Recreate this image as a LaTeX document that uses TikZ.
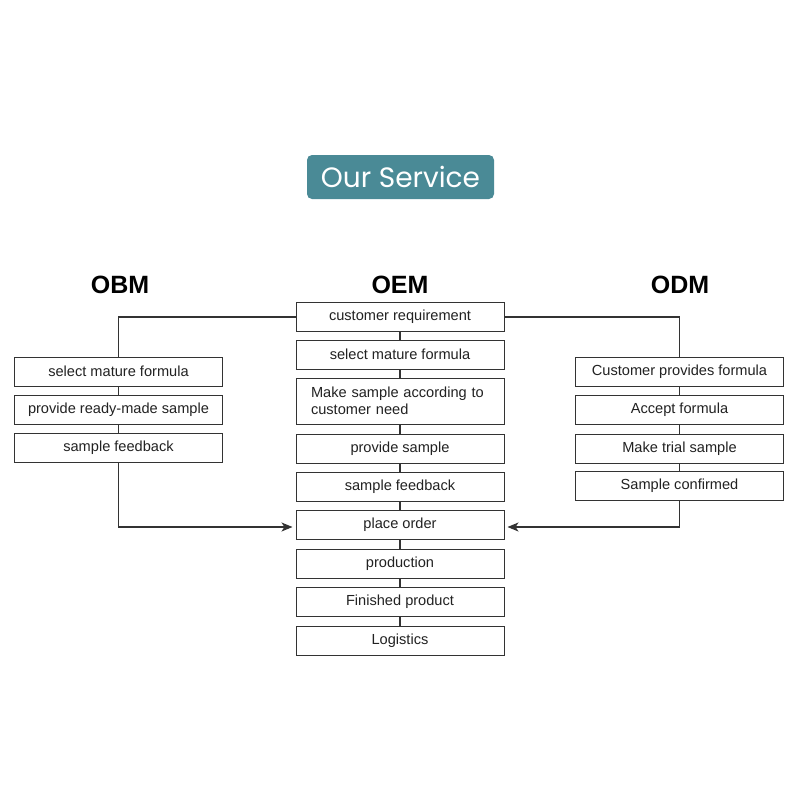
\documentclass[tikz,border=0pt]{standalone}
\usepackage{fontspec}
\setmainfont{Liberation Sans}
\newfontfamily\titlefont{Poppins}
\usetikzlibrary{arrows.meta}
\definecolor{teal1}{HTML}{4A8A96}
\definecolor{linec}{HTML}{333333}
\definecolor{txtc}{HTML}{222222}
\tikzset{
  box/.style={draw=linec, line width=1pt, fill=white, minimum width=208pt, minimum height=29pt, inner sep=0pt, text=txtc, font=\fontsize{14.6}{17}\selectfont},
  hdr/.style={font=\bfseries\fontsize{25}{28}\selectfont, text=black},
  conn/.style={draw=linec, line width=1.1pt},
  arr/.style={conn, -{Stealth[length=11pt,width=9pt,inset=3pt]}, shorten >=3pt}
}
\begin{document}
\begin{tikzpicture}[x=1pt,y=-1pt]
\useasboundingbox (0,0) rectangle (800,800);
\node[fill=teal1, rounded corners=5pt, minimum width=187pt, minimum height=44pt, inner sep=0pt, text=white, font=\titlefont\fontsize{28}{30}\selectfont] (title) at (400.5,177) {Our Service};
\node[hdr] (hobm) at (120,285) {OBM};
\node[hdr] (hoem) at (400,285) {OEM};
\node[hdr] (hodm) at (680,285) {ODM};
% center
\node[box] (c1) at (400,317) {customer requirement};
\node[box] (c2) at (400,354.5) {select mature formula};
\node[box, minimum height=46pt, text width=178pt, align=left] (c3) at (400,401) {Make sample according to\\customer need};
\node[box] (c4) at (400,448.5) {provide sample};
\node[box] (c5) at (400,487) {sample feedback};
\node[box] (c6) at (400,525) {place order};
\node[box] (c7) at (400,563.5) {production};
\node[box] (c8) at (400,602) {Finished product};
\node[box] (c9) at (400,640.5) {Logistics};
% left
\node[box] (l1) at (118.5,371.5) {select mature formula};
\node[box] (l2) at (118.5,410) {provide ready-made sample};
\node[box] (l3) at (118.5,448) {sample feedback};
% right
\node[box] (r1) at (679.5,371.5) {Customer provides formula};
\node[box] (r2) at (679.5,410) {Accept formula};
\node[box] (r3) at (679.5,448.5) {Make trial sample};
\node[box] (r4) at (679.5,486) {Sample confirmed};
% connectors
\foreach \a/\b in {c1/c2,c2/c3,c3/c4,c4/c5,c5/c6,c6/c7,c7/c8,c8/c9,l1/l2,l2/l3,r1/r2,r2/r3,r3/r4}
  \draw[conn] (\a.south) -- (\b.north);
\draw[conn] (c1.west) -| (l1.north);
\draw[conn] (c1.east) -| (r1.north);
\draw[arr] (l3.south) |- ([yshift=-2pt]c6.west);
\draw[arr] (r4.south) |- ([yshift=-2pt]c6.east);
\end{tikzpicture}
\end{document}
